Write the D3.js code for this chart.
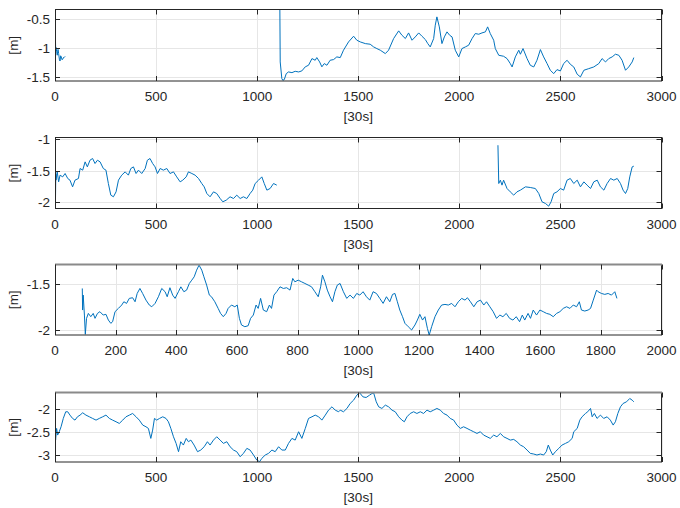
<!DOCTYPE html>
<html>
<head>
<meta charset="utf-8">
<script src="https://cdn.jsdelivr.net/npm/d3@7/dist/d3.min.js"></script>
<style>
  html, body { margin: 0; padding: 0; background: #fff; }
  svg { display: block; }
  text { font-family: "Liberation Sans", Arial, Helvetica, sans-serif; fill: #262626; }
</style>
</head>
<body>
<svg id="chart" width="680" height="508"></svg>
<script>
// ---- Data ----
// Panel 1: null separates segments
const p1x = [0,3,5,8,11,15,18,22,25,28,31,35,38,42,45,50, null,
  1112,1114,1122,1127,1134,1144,1155,1172,1188,1205,1221,1238,1254,1271,1287,1295,1309,1320,1332,1345,1361,1378,1394,1411,
  1427,1452,1477,1493,1510,1535,1559,1576,1592,1609,1634,1650,1675,1700,1716,1733,1749,1766,1782,1799,1815,1832,1844,1856,1873,1881,1889,1901,1914,1926,1939,1952,1964,1980,1997,2013,2030,2046,2063,2079,2096,2112,2129,2140,2153,2170,2178,2195,2219,2236,2252,2261,2277,2294,2302,2315,2335,2351,2368,2384,2401,2417,2434,2450,2467,2483,2500,2516,2533,2549,2566,2583,2599,2616,2640,2665,2690,2706,2723,2739,2756,2772,2789,2805,2822,2838,2855,2863];
const p1y = [-0.45,-0.97,-0.98,-1.05,-1.12,-1.02,-1.09,-1.2,-1.22,-1.13,-1.15,-1.2,-1.19,-1.16,-1.16,-1.14, null,
  -0.2,-1.236,-1.523,-1.552,-1.54,-1.437,-1.408,-1.42,-1.397,-1.408,-1.39,-1.32,-1.293,-1.178,-1.207,-1.161,-1.236,-1.32,-1.264,-1.293,-1.207,-1.195,-1.149,-1.161,
  -1.034,-0.891,-0.793,-0.862,-0.891,-0.92,-0.931,-0.977,-1.006,-1.034,-1.092,-1.034,-0.833,-0.701,-0.776,-0.833,-0.736,-0.862,-0.805,-0.736,-0.793,-0.851,-0.92,-0.977,-0.833,-0.603,-0.46,-0.632,-0.92,-0.805,-0.718,-0.776,-0.805,-1.034,-1.149,-1.006,-0.977,-0.948,-0.833,-0.747,-0.759,-0.736,-0.718,-0.632,-0.747,-0.862,-1.006,-1.121,-1.138,-1.178,-1.264,-1.322,-1.149,-1.034,-1.103,-1.006,-1.178,-1.293,-1.322,-1.207,-1.023,-1.149,-1.264,-1.379,-1.437,-1.368,-1.391,-1.264,-1.207,-1.276,-1.322,-1.448,-1.494,-1.379,-1.351,-1.322,-1.264,-1.178,-1.236,-1.178,-1.149,-1.103,-1.121,-1.207,-1.379,-1.322,-1.236,-1.161];

// Panel 2
const p2x = [0,2,4,5,11,18,25,38,50,63,74,87,99,116,124,137,149,160,173,186,198,210,223,239,252,264,276,289,302,314,330,347,363,375,388,401,413,429,446,457,470,483,495,507,520,536,553,569,586,602,619,632,649,660,677,693,710,726,738,751,767,784,800,817,830,847,866,883,899,916,932,949,965,978,990,1007,1023,1035,1048,1064,1081,1097, null,
  2191,2195,2203,2211,2219,2236,2252,2269,2285,2302,2327,2351,2376,2393,2409,2426,2442,2454,2467,2483,2500,2516,2533,2549,2566,2583,2599,2616,2632,2649,2665,2682,2698,2715,2731,2748,2764,2781,2797,2810,2822,2833,2843,2855,2863];
const p2y = [-1.28,-2.06,-1.55,-1.647,-1.516,-1.674,-1.568,-1.595,-1.542,-1.621,-1.647,-1.753,-1.647,-1.621,-1.463,-1.489,-1.358,-1.437,-1.332,-1.305,-1.384,-1.332,-1.358,-1.463,-1.489,-1.7,-1.884,-1.91,-1.832,-1.647,-1.568,-1.516,-1.568,-1.463,-1.437,-1.542,-1.489,-1.542,-1.463,-1.332,-1.305,-1.384,-1.437,-1.542,-1.463,-1.489,-1.463,-1.542,-1.516,-1.595,-1.674,-1.647,-1.595,-1.516,-1.542,-1.568,-1.621,-1.7,-1.753,-1.858,-1.91,-1.832,-1.858,-1.937,-1.989,-1.963,-1.91,-1.937,-1.884,-1.937,-1.91,-1.937,-1.858,-1.805,-1.7,-1.647,-1.595,-1.7,-1.805,-1.779,-1.7,-1.726, null,
  -1.095,-1.7,-1.647,-1.726,-1.647,-1.779,-1.832,-1.884,-1.832,-1.805,-1.753,-1.763,-1.779,-1.858,-1.989,-2.016,-2.058,-1.989,-1.858,-1.832,-1.779,-1.805,-1.647,-1.621,-1.7,-1.647,-1.753,-1.674,-1.726,-1.779,-1.674,-1.647,-1.753,-1.805,-1.7,-1.621,-1.647,-1.621,-1.7,-1.805,-1.858,-1.779,-1.595,-1.437,-1.426];

// Panel 3
const p3x = [90,91,93,97,100,104,110,118,126,132,140,148,159,168,176,184,190,198,209,220,227,236,245,256,264,271,280,289,300,311,319,330,341,352,363,370,379,388,396,407,415,425,434,443,451,459,467,475,484,491,500,509,516,527,538,546,555,564,571,582,593,601,608,615,626,637,645,654,663,670,678,687,698,707,714,722,731,742,753,764,775,784,791,802,813,824,835,846,857,868,876,882,890,898,907,915,923,931,
  940,951,962,973,984,995,1005,1016,1027,1038,1049,1060,1071,1082,1093,1104,1113,1121,1129,1137,1146,1154,1165,1176,1187,1195,1203,1212,1220,1228,1234,1242,1253,1264,1275,1286,1297,1308,1319,1330,1341,1352,1360,1370,1381,1392,1403,1414,1423,1434,1445,1456,1467,1477,1488,1499,1510,1521,1532,1541,1549,1560,1568,1577,1588,1599,1610,1621,1632,1643,1654,1665,1676,1687,1698,1709,1720,1729,1736,1747,1758,1766,1775,1786,1791,1802,1813,1824,1835,1846,1853];
const p3y = [-1.544,-1.781,-1.617,-1.836,-2.047,-1.872,-1.818,-1.854,-1.818,-1.872,-1.818,-1.799,-1.836,-1.828,-1.891,-1.927,-1.909,-1.799,-1.763,-1.726,-1.69,-1.708,-1.653,-1.646,-1.69,-1.599,-1.544,-1.599,-1.672,-1.726,-1.745,-1.708,-1.635,-1.544,-1.58,-1.635,-1.536,-1.617,-1.653,-1.58,-1.526,-1.58,-1.562,-1.489,-1.453,-1.416,-1.343,-1.288,-1.343,-1.416,-1.507,-1.617,-1.635,-1.69,-1.763,-1.818,-1.854,-1.818,-1.763,-1.726,-1.745,-1.726,-1.872,-1.945,-1.964,-1.953,-1.872,-1.836,-1.726,-1.763,-1.653,-1.781,-1.799,-1.726,-1.763,-1.617,-1.58,-1.526,-1.544,-1.536,-1.562,-1.434,-1.471,-1.453,-1.471,-1.489,-1.507,-1.526,-1.58,-1.635,-1.526,-1.398,-1.471,-1.562,-1.635,-1.69,-1.58,-1.507,
  -1.489,-1.58,-1.653,-1.617,-1.653,-1.599,-1.617,-1.58,-1.635,-1.672,-1.58,-1.599,-1.653,-1.708,-1.635,-1.69,-1.609,-1.599,-1.69,-1.781,-1.854,-1.927,-1.964,-2.0,-1.945,-1.891,-1.828,-1.891,-1.854,-1.982,-2.055,-1.964,-1.854,-1.781,-1.726,-1.719,-1.726,-1.708,-1.745,-1.69,-1.653,-1.672,-1.646,-1.69,-1.745,-1.69,-1.672,-1.726,-1.69,-1.745,-1.799,-1.872,-1.836,-1.854,-1.818,-1.872,-1.891,-1.854,-1.909,-1.836,-1.891,-1.818,-1.872,-1.781,-1.836,-1.781,-1.799,-1.818,-1.828,-1.854,-1.818,-1.799,-1.763,-1.745,-1.763,-1.726,-1.745,-1.69,-1.781,-1.792,-1.781,-1.763,-1.672,-1.562,-1.58,-1.599,-1.609,-1.599,-1.617,-1.58,-1.653];

// Panel 4
const p4x = [0,3,8,13,21,30,41,53,63,74,87,99,111,124,137,153,170,186,203,219,236,252,269,285,302,318,335,351,368,384,401,417,434,450,462,474,483,492,503,517,533,549,561,573,586,599,611,622,635,649,660,672,688,705,721,738,754,767,784,800,817,833,850,866,883,899,916,932,949,965,982,998,1012,1023,1040,1056,1073,1089,1106,1122,1139,1155,1172,1188,1205,1221,1238,1254,1271,1287,1304,1320,1337,1353,1370,1386,1403,
  1411,1427,1444,1460,1477,1493,1507,1523,1539,1556,1568,1576,1589,1601,1617,1634,1650,1667,1683,1700,1716,1728,1741,1757,1774,1790,1807,1823,1840,1856,1873,1889,1906,1922,1939,1955,1972,1988,2005,2021,2038,2054,2071,2087,2104,2120,2137,2153,2170,2186,2203,2219,2236,2252,2269,2285,2302,2318,2335,2351,2368,2384,2401,2417,2430,2440,2450,2462,2475,2492,2508,2525,2541,2558,2566,2583,2596,2607,2624,2635,2649,2657,2668,2681,2698,2714,2731,2747,2761,2772,2784,2797,2810,2827,2843,2855,2863];
const p4y = [-2.387,-2.679,-2.423,-2.569,-2.496,-2.387,-2.204,-2.058,-2.058,-2.131,-2.204,-2.241,-2.168,-2.131,-2.08,-2.131,-2.168,-2.204,-2.241,-2.204,-2.168,-2.131,-2.204,-2.241,-2.277,-2.314,-2.241,-2.168,-2.131,-2.095,-2.168,-2.241,-2.35,-2.387,-2.423,-2.642,-2.46,-2.204,-2.241,-2.204,-2.168,-2.204,-2.277,-2.423,-2.606,-2.752,-2.934,-2.715,-2.788,-2.642,-2.715,-2.679,-2.788,-2.934,-2.898,-2.825,-2.715,-2.788,-2.679,-2.606,-2.679,-2.752,-2.715,-2.825,-2.898,-2.934,-3.044,-2.971,-2.861,-2.898,-3.007,-3.117,-3.153,-3.08,-3.007,-2.971,-2.898,-2.934,-2.825,-2.898,-2.898,-2.752,-2.642,-2.679,-2.496,-2.642,-2.423,-2.204,-2.168,-2.131,-2.168,-2.241,-2.131,-2.022,-1.949,-2.022,-2.058,
  -2.022,-2.058,-1.985,-1.876,-1.803,-1.693,-1.642,-1.73,-1.745,-1.693,-1.657,-1.642,-1.839,-1.949,-1.985,-1.912,-1.949,-2.022,-2.058,-2.168,-2.241,-2.277,-2.168,-2.095,-2.058,-2.095,-2.058,-2.095,-2.022,-2.058,-2.022,-1.985,-2.022,-2.095,-2.131,-2.204,-2.241,-2.35,-2.423,-2.387,-2.423,-2.46,-2.496,-2.533,-2.496,-2.569,-2.606,-2.642,-2.569,-2.606,-2.533,-2.606,-2.642,-2.679,-2.664,-2.715,-2.788,-2.825,-2.898,-2.971,-2.985,-3.007,-2.985,-3.007,-2.934,-2.788,-2.898,-3.007,-2.934,-2.861,-2.788,-2.752,-2.715,-2.642,-2.496,-2.423,-2.241,-2.168,-2.095,-2.058,-1.985,-2.168,-2.095,-2.204,-2.131,-2.204,-2.168,-2.241,-2.35,-2.277,-2.095,-1.949,-1.876,-1.839,-1.766,-1.803,-1.839];

// Axis settings
const p1ticksY = [-1.5, -1, -0.5];
const p2ticksY = [-2, -1.5, -1];
const p3ticksY = [-2, -1.5];
const p4ticksY = [-3, -2.5, -2];
const ticksX3000 = [0, 500, 1000, 1500, 2000, 2500, 3000];
const ticksX2000 = [0, 200, 400, 600, 800, 1000, 1200, 1400, 1600, 1800, 2000];
const xLabel = "[30s]";
const yLabel = "[m]";

// ---- Layout ----
const panels = [
  { xs: p1x, ys: p1y, xDom: [0, 3000], xTicks: ticksX3000, yDom: [-1.564, -0.333], yTicks: p1ticksY, top: 9.5, bottom: 81, topColor: "#262626", topW: 1 },
  { xs: p2x, ys: p2y, xDom: [0, 3000], xTicks: ticksX3000, yDom: [-2.095, -0.973], yTicks: p2ticksY, top: 137.5, bottom: 208.5, topColor: "#262626", topW: 1 },
  { xs: p3x, ys: p3y, xDom: [0, 2000], xTicks: ticksX2000, yDom: [-2.055, -1.281], yTicks: p3ticksY, top: 264.5, bottom: 335, topColor: "#8a8a8a", topW: 2 },
  { xs: p4x, ys: p4y, xDom: [0, 3000], xTicks: ticksX3000, yDom: [-3.16, -1.635], yTicks: p4ticksY, top: 392.5, bottom: 462, topColor: "#8a8a8a", topW: 2 }
];
const left = 55, right = 661.5;
const svg = d3.select("#chart");
const fs = 13.5;
const axisColor = "#262626";
const gridColor = "#e6e6e6";
const tickLen = 5;

panels.forEach((p, i) => {
  const x = d3.scaleLinear().domain(p.xDom).range([left, right]);
  const y = d3.scaleLinear().domain(p.yDom).range([p.bottom, p.top]);
  const g = svg.append("g");

  // grid
  g.selectAll(".gx").data(p.xTicks).enter().append("line")
    .attr("x1", d => Math.round(x(d)) + 0.5).attr("x2", d => Math.round(x(d)) + 0.5)
    .attr("y1", p.top).attr("y2", p.bottom)
    .attr("stroke", gridColor).attr("stroke-width", 1);
  g.selectAll(".gy").data(p.yTicks).enter().append("line")
    .attr("x1", left).attr("x2", right)
    .attr("y1", d => Math.round(y(d)) + 0.5).attr("y2", d => Math.round(y(d)) + 0.5)
    .attr("stroke", gridColor).attr("stroke-width", 1);

  // data line (clipped)
  const clipId = "clip" + i;
  svg.append("clipPath").attr("id", clipId).append("rect")
    .attr("x", left).attr("y", p.top).attr("width", right - left).attr("height", p.bottom - p.top);
  const pts = p.xs.map((v, k) => [v, p.ys[k]]);
  const line = d3.line()
    .defined(d => d[0] !== null && d[1] !== null)
    .x(d => x(d[0])).y(d => y(d[1]));
  g.append("path").attr("d", line(pts))
    .attr("clip-path", `url(#${clipId})`)
    .attr("fill", "none").attr("stroke", "#0072BD").attr("stroke-width", 1)
    .attr("stroke-linejoin", "round");

  // box: left, right, bottom dark; top per panel
  g.append("line").attr("x1", left + 0.5).attr("x2", left + 0.5).attr("y1", p.top).attr("y2", p.bottom).attr("stroke", axisColor);
  g.append("line").attr("x1", right).attr("x2", right).attr("y1", p.top).attr("y2", p.bottom).attr("stroke", axisColor);
  g.append("line").attr("x1", left).attr("x2", right + 0.5).attr("y1", p.bottom).attr("y2", p.bottom).attr("stroke", axisColor);
  g.append("line").attr("x1", left).attr("x2", right + 0.5).attr("y1", p.top).attr("y2", p.top)
    .attr("stroke", p.topColor).attr("stroke-width", p.topW);

  // ticks inward on all sides
  p.xTicks.forEach(d => {
    const xx = Math.round(x(d)) + 0.5;
    g.append("line").attr("x1", xx).attr("x2", xx).attr("y1", p.bottom).attr("y2", p.bottom - tickLen).attr("stroke", axisColor);
    g.append("line").attr("x1", xx).attr("x2", xx).attr("y1", p.top).attr("y2", p.top + tickLen).attr("stroke", axisColor);
  });
  p.yTicks.forEach(d => {
    const yy = Math.round(y(d)) + 0.5;
    g.append("line").attr("x1", left).attr("x2", left + tickLen).attr("y1", yy).attr("y2", yy).attr("stroke", axisColor);
    g.append("line").attr("x1", right).attr("x2", right - tickLen).attr("y1", yy).attr("y2", yy).attr("stroke", axisColor);
  });

  // tick labels
  g.selectAll(".tx").data(p.xTicks).enter().append("text")
    .attr("x", d => x(d)).attr("y", p.bottom + 20)
    .attr("text-anchor", "middle").attr("font-size", fs).text(d => d);
  g.selectAll(".ty").data(p.yTicks).enter().append("text")
    .attr("x", left - 5).attr("y", d => y(d) + 5)
    .attr("text-anchor", "end").attr("font-size", fs).text(d => d);

  // axis labels
  g.append("text").attr("x", (left + right) / 2).attr("y", p.bottom + 40)
    .attr("text-anchor", "middle").attr("font-size", fs).text(xLabel);
  g.append("text")
    .attr("transform", `translate(18, ${(p.top + p.bottom) / 2}) rotate(-90)`)
    .attr("text-anchor", "middle").attr("font-size", fs).text(yLabel);
});
</script>
</body>
</html>
